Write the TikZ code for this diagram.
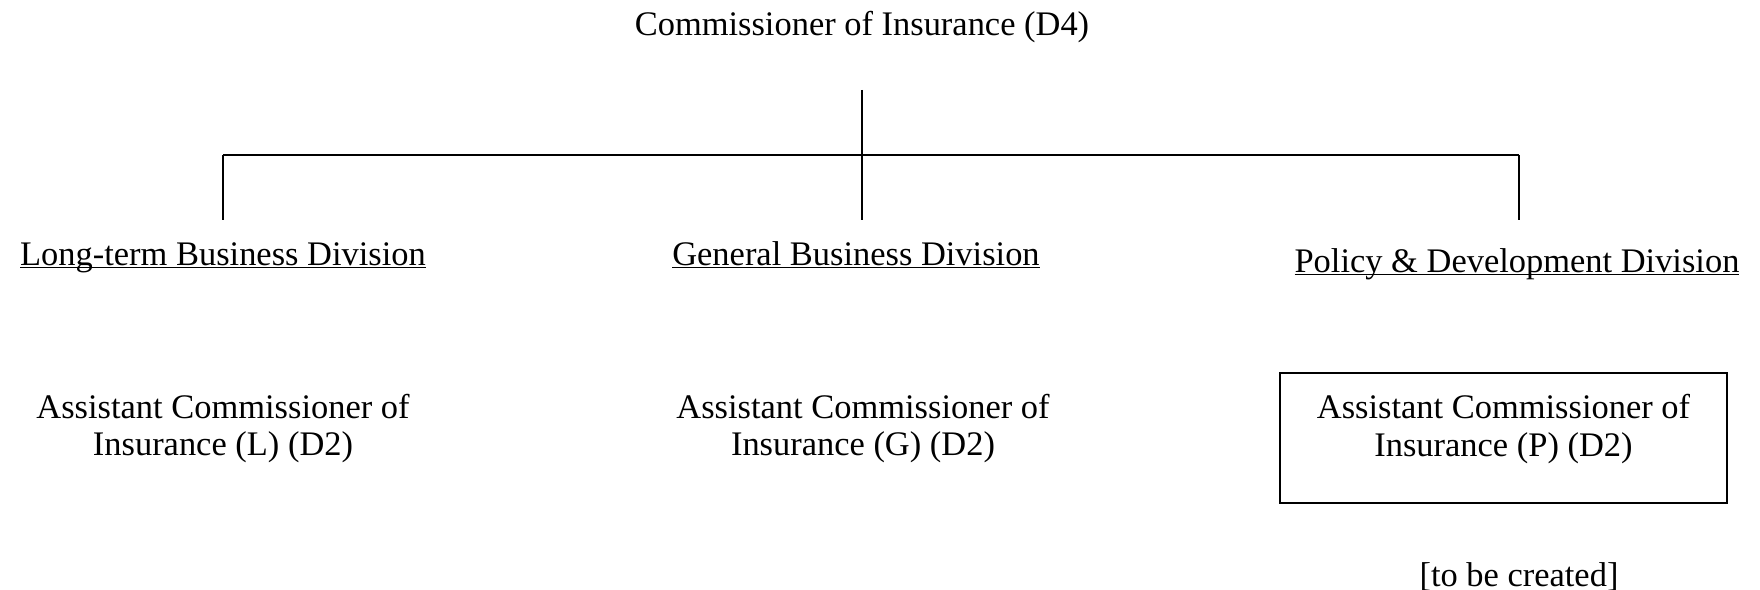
\documentclass[tikz,border=0pt]{standalone}
\usepackage{fontspec}
\setmainfont{Liberation Serif}
\usepackage{tikz}
\usetikzlibrary{positioning}

\newcommand{\souligne}[1]{\setbox0\hbox{#1}\rlap{\rule[-0.8pt]{\wd0}{0.45pt}}\box0}

\begin{document}
\begin{tikzpicture}
    \tikzstyle{post}=[align=center, inner sep=0pt, anchor=base, font=\fontsize{9.8}{10.8}\selectfont]
    \tikzstyle{division}=[inner sep=0pt, anchor=base, font=\fontsize{9.8}{10.8}\selectfont]
    \tikzstyle{newpost}=[post, anchor=center, draw, thick, minimum width=4.47cm, minimum height=1.3cm, text depth=7pt]
    \tikzstyle{ligne}=[thin, color=black]

    \useasboundingbox (0,0) rectangle (17.6,-5.9);

    \node[post] (commissaire) at (8.62,-0.36) {Commissioner of Insurance (D4)};

    \node[division] (long-terme) at (2.23,-2.655) {\souligne{Long-term Business Division}};
    \node[division] (general) at (8.56,-2.655) {\souligne{General Business Division}};
    \node[division] (politique) at (15.17,-2.725) {\souligne{Policy \& Development Division}};

    \coordinate (embranchement) at (8.62,-1.55);
    \draw[ligne] (8.62,-0.9) -- (embranchement);
    \draw[ligne] (embranchement) -- (8.62,-2.2);
    \draw[ligne, line width=0.5pt] (2.23,-1.55) -- (embranchement) -- (15.19,-1.55);
    \draw[ligne] (2.23,-2.2) -- (2.23,-1.55);
    \draw[ligne] (15.19,-2.2) -- (15.19,-1.55);

    \node[post] (adjoint-l) at (2.23,-4.56) {Assistant Commissioner of\\Insurance (L) (D2)};
    \node[post] (adjoint-g) at (8.63,-4.56) {Assistant Commissioner of\\Insurance (G) (D2)};
    \node[newpost] (adjoint-p) at (15.035,-4.38) {Assistant Commissioner of\\Insurance (P) (D2)};

    \node[post] (a-creer) at (15.19,-5.87) {[to be created]};
\end{tikzpicture}
\end{document}
